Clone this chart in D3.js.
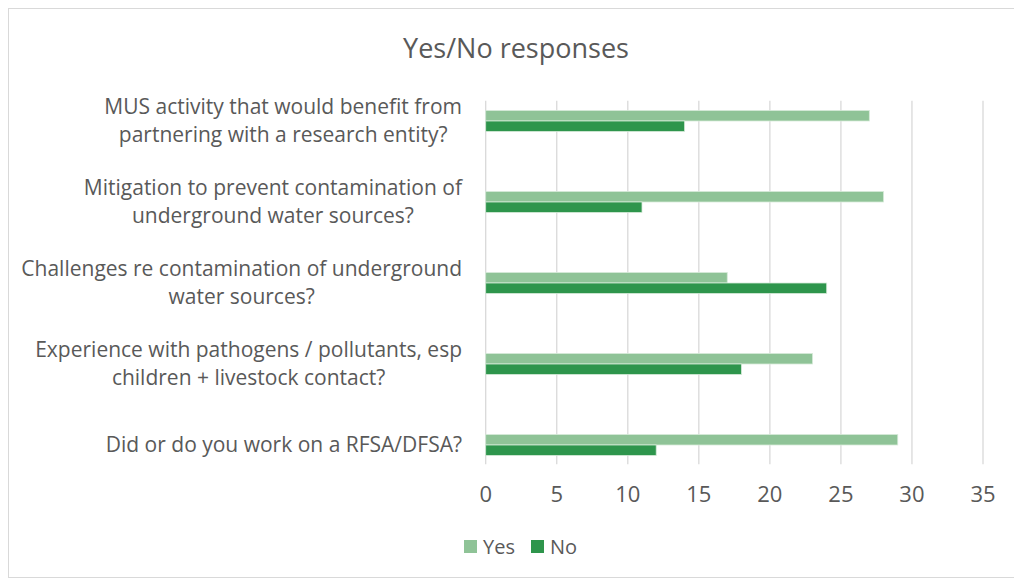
<!DOCTYPE html>
<html>
<head>
<meta charset="utf-8">
<script src="https://cdn.jsdelivr.net/npm/d3@7"></script>
<style>
    body { margin: 0; background: #fff; }
    svg { display: block; font-family: "Open Sans", sans-serif; }
</style>
</head>
<body>
<svg id="chart"></svg>
<script>
    //-------------------
    // DATA
    //-------------------
    var categories = [
        ["MUS activity that would benefit from", "partnering with a research entity?"],
        ["Mitigation to prevent contamination of", "underground water sources?"],
        ["Challenges re contamination of underground", "water sources?"],
        ["Experience with pathogens / pollutants, esp", "children + livestock contact?"],
        ["Did or do you work on a RFSA/DFSA?"]
    ];
    var seriesNames = ["Yes", "No"];
    var yesValues = [27, 28, 17, 23, 29];
    var noValues = [14, 11, 24, 18, 12];
    var xTicks = [0, 5, 10, 15, 20, 25, 30, 35];
    var colors = { Yes: "#8fc397", No: "#2e954c" };

    //-------------------
    // GLOBAL VARIABLES
    //-------------------
    var width = 1014, height = 579;
    var textColor = "#595959";

    var svg = d3.select("#chart")
        .attr("width", width)
        .attr("height", height);

    // chart border
    svg.append("rect")
        .attr("x", 8.5).attr("y", 8.5)
        .attr("width", width - 4).attr("height", height - 10)
        .attr("fill", "none")
        .attr("stroke", "#d9d9d9");

    var x = d3.scaleLinear()
        .domain([0, 35])
        .range([485.7, 983]);

    var catIndex = d3.range(categories.length);
    var y = d3.scaleBand()
        .domain(catIndex)
        .range([80.5, 485.5])
        .paddingInner(0.741)
        .paddingOuter(0.3705);

    var ySub = d3.scaleBand()
        .domain(seriesNames)
        .range([0, y.bandwidth()]);

    // title
    svg.append("text")
        .attr("x", 516)
        .attr("y", 58)
        .attr("text-anchor", "middle")
        .attr("fill", textColor)
        .style("font-size", "27px")
        .text("Yes/No responses");

    //-------------------
    // GRIDLINES + AXIS
    //-------------------
    var gridTop = 100.7, gridBottom = 464.3;
    svg.append("g")
        .selectAll("line")
        .data(xTicks)
        .enter()
        .append("line")
        .attr("x1", d => x(d)).attr("x2", d => x(d))
        .attr("y1", gridTop).attr("y2", gridBottom)
        .attr("stroke", "#d9d9d9")
        .attr("stroke-width", 1.3);

    svg.append("g")
        .selectAll("text")
        .data(xTicks)
        .enter()
        .append("text")
        .attr("x", d => x(d))
        .attr("y", 502)
        .attr("text-anchor", "middle")
        .attr("fill", textColor)
        .style("font-size", "22px")
        .text(d => d);

    //-------------------
    // BARS
    //-------------------
    var rows = catIndex.map(i => ({ i: i, Yes: yesValues[i], No: noValues[i] }));

    var groups = svg.append("g")
        .selectAll("g")
        .data(rows)
        .enter()
        .append("g")
        .attr("transform", d => "translate(0," + y(d.i) + ")");

    groups.selectAll("rect")
        .data(d => seriesNames.map(s => ({ key: s, value: d[s] })))
        .enter()
        .append("rect")
        .attr("x", x(0))
        .attr("y", d => ySub(d.key))
        .attr("width", d => x(d.value) - x(0))
        .attr("height", ySub.bandwidth())
        .attr("fill", d => colors[d.key])
        .attr("stroke", "#d6ead9")
        .attr("stroke-width", 0.8);

    //-------------------
    // CATEGORY LABELS
    //-------------------
    var labelRight = 462, lineHeight = 28;
    catIndex.forEach(i => {
        var lines = categories[i];
        var center = y(i) + y.bandwidth() / 2;
        var g = svg.append("g");
        var texts = g.selectAll("text")
            .data(lines)
            .enter()
            .append("text")
            .attr("y", (d, k) => center + 7 + (k - (lines.length - 1) / 2) * lineHeight)
            .attr("text-anchor", "middle")
            .attr("fill", textColor)
            .style("font-size", "21px")
            .text(d => d);
        var maxW = d3.max(texts.nodes(), n => n.getComputedTextLength());
        texts.attr("x", labelRight - maxW / 2);
    });

    //-------------------
    // LEGEND
    //-------------------
    var legendItems = [
        { key: "Yes", sx: 464, tx: 483 },
        { key: "No", sx: 531, tx: 550 }
    ];
    var legend = svg.append("g");
    legend.selectAll("rect")
        .data(legendItems)
        .enter()
        .append("rect")
        .attr("x", d => d.sx).attr("y", 540)
        .attr("width", 13).attr("height", 13)
        .attr("fill", d => colors[d.key]);
    legend.selectAll("text")
        .data(legendItems)
        .enter()
        .append("text")
        .attr("x", d => d.tx).attr("y", 553.5)
        .attr("fill", textColor)
        .style("font-size", "20px")
        .text(d => d.key);
</script>
</body>
</html>
